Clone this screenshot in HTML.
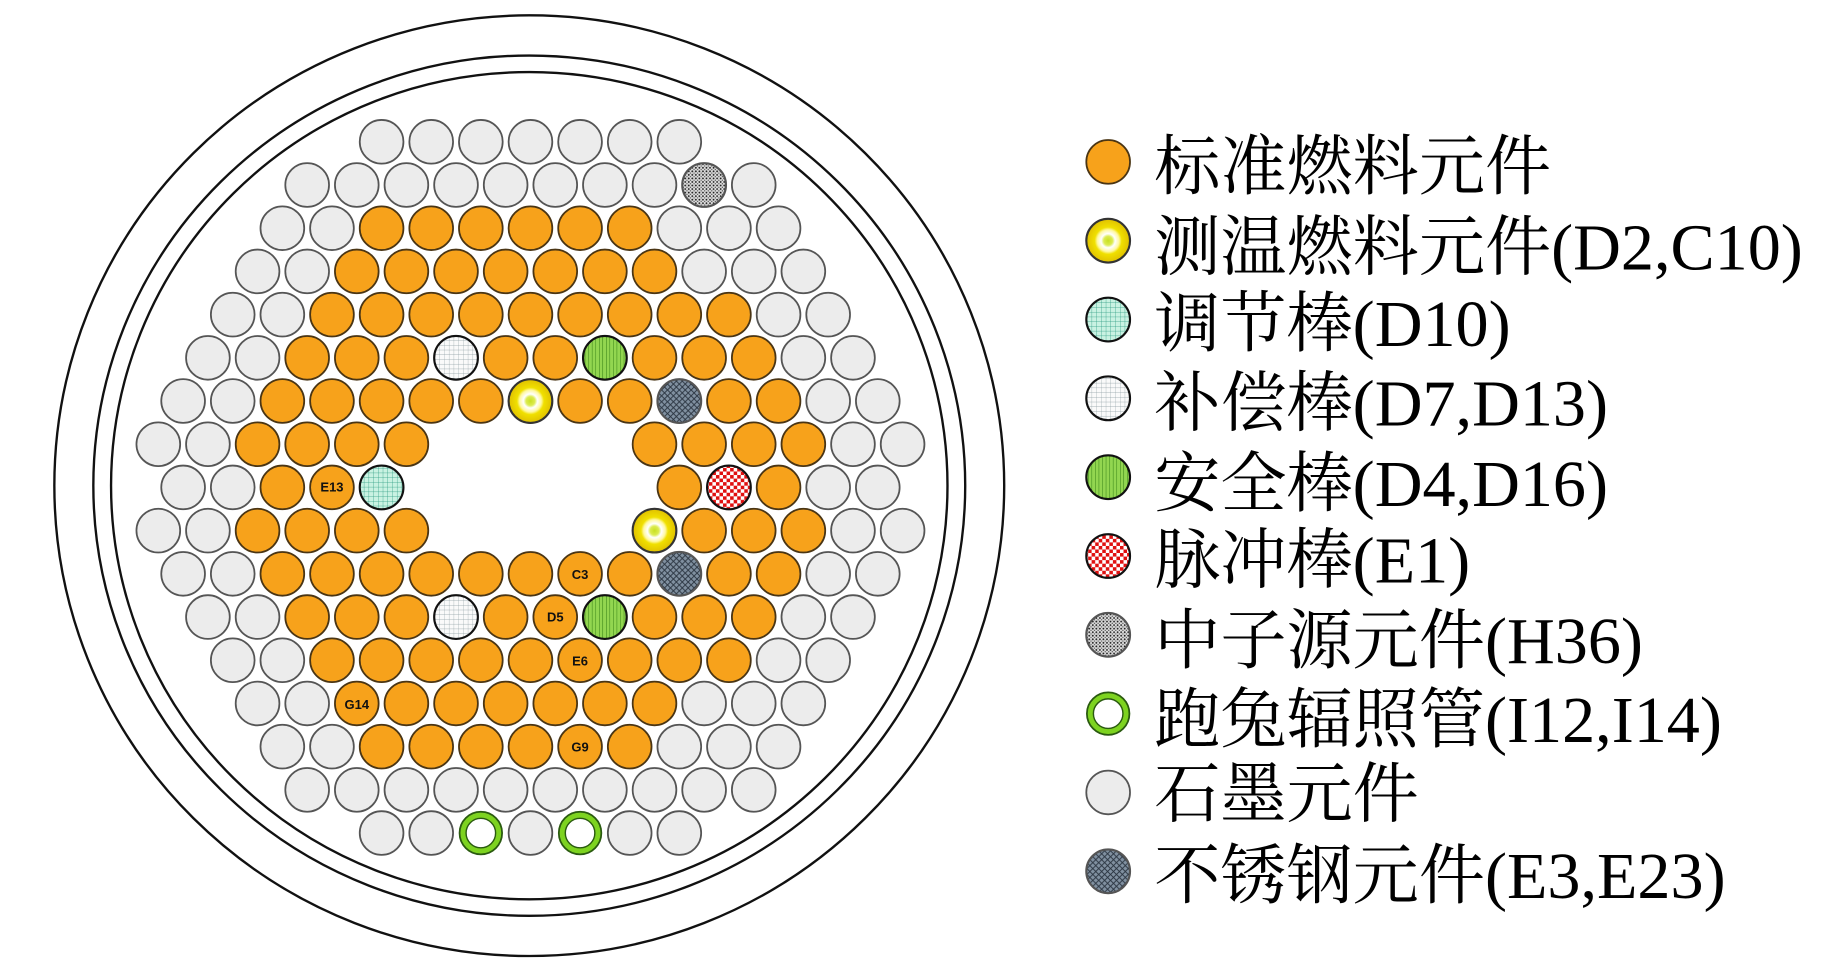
<!DOCTYPE html>
<html><head><meta charset="utf-8"><style>
html,body{margin:0;padding:0;background:#fff;}
svg{display:block;}
.lt{font-family:"Liberation Serif","Noto Serif CJK SC",serif;font-size:56px;fill:#000;}
.lb{font-family:"Liberation Sans","DejaVu Sans",sans-serif;font-size:11px;font-weight:bold;fill:#111;text-anchor:middle;}
</style></head><body>
<svg id="s" width="1843" height="969" viewBox="0 0 1560 820" preserveAspectRatio="none" xmlns="http://www.w3.org/2000/svg">
<defs>
<pattern id="preg" patternUnits="userSpaceOnUse" width="4" height="4"><rect width="4" height="4" fill="#c9f2e2"/><path d="M0 0H4M0 0V4" stroke="#2a9a80" stroke-width="0.6"/></pattern>
<pattern id="pcomp" patternUnits="userSpaceOnUse" width="4" height="4"><rect width="4" height="4" fill="#fafafa"/><path d="M0 0H4M0 0V4" stroke="#8a9aa0" stroke-width="0.5"/></pattern>
<pattern id="psaf" patternUnits="userSpaceOnUse" width="3" height="3"><rect width="3" height="3" fill="#92d650"/><path d="M0 0V3" stroke="#2e7a10" stroke-width="0.8"/></pattern>
<pattern id="ppul" patternUnits="userSpaceOnUse" width="6" height="6"><rect width="6" height="6" fill="#fff"/><rect width="3" height="3" fill="#e01010"/><rect x="3" y="3" width="3" height="3" fill="#e01010"/></pattern>
<pattern id="pneu" patternUnits="userSpaceOnUse" width="3" height="3"><rect width="3" height="3" fill="#ddd"/><circle cx="1" cy="1" r="0.8" fill="#222"/><circle cx="2.5" cy="2.5" r="0.6" fill="#555"/></pattern>
<pattern id="pste" patternUnits="userSpaceOnUse" width="5" height="5"><rect width="5" height="5" fill="#8090a0"/><path d="M0 0L5 5M5 0L0 5" stroke="#2a3440" stroke-width="0.8"/></pattern>
<radialGradient id="gth"><stop offset="0" stop-color="#c8e020"/><stop offset="0.2" stop-color="#dcec50"/><stop offset="0.32" stop-color="#ffffff"/><stop offset="0.5" stop-color="#fff8a0"/><stop offset="0.62" stop-color="#f0e000"/><stop offset="1" stop-color="#e0c000"/></radialGradient>
</defs>
<ellipse cx="448" cy="411" rx="402" ry="398" fill="none" stroke="#111" stroke-width="2"/>
<ellipse cx="448" cy="411" rx="369" ry="364" fill="none" stroke="#111" stroke-width="2"/>
<ellipse cx="448" cy="411" rx="354" ry="350" fill="none" stroke="#111" stroke-width="2"/>
<g id="core"></g>
<g id="leg"></g>
<text class="lb" x="281" y="416">E13</text>
<text class="lb" x="491" y="490">C3</text>
<text class="lb" x="470" y="526">D5</text>
<text class="lb" x="491" y="563">E6</text>
<text class="lb" x="302" y="600">G14</text>
<text class="lb" x="491" y="636">G9</text>
<text class="lt" x="977" y="160">标准燃料元件</text>
<text class="lt" x="977" y="228">测温燃料元件(D2,C10)</text>
<text class="lt" x="977" y="293">调节棒(D10)</text>
<text class="lt" x="977" y="360">补偿棒(D7,D13)</text>
<text class="lt" x="977" y="428">安全棒(D4,D16)</text>
<text class="lt" x="977" y="493">脉冲棒(E1)</text>
<text class="lt" x="977" y="561">中子源元件(H36)</text>
<text class="lt" x="977" y="628">跑兔辐照管(I12,I14)</text>
<text class="lt" x="977" y="691">石墨元件</text>
<text class="lt" x="977" y="760">不锈钢元件(E3,E23)</text>
</svg>
<script>
var NS="http://www.w3.org/2000/svg";
function mk(g,x,y,r,f,st,sw){
  var c=document.createElementNS(NS,"circle");
  c.setAttribute("cx",x);c.setAttribute("cy",y);c.setAttribute("r",r);
  c.setAttribute("fill",f);c.setAttribute("stroke",st);c.setAttribute("stroke-width",sw);
  g.appendChild(c);
}
function C(g,x,y,t){
  var r=18.5, f, st="#111", sw=1.8;
  switch(t){
    case 'g': f="#ececec"; st="#555"; sw=1.5; break;
    case 'o': f="#f7a21b"; st="#4a3514"; sw=1.5; break;
    case 't': f="url(#gth)"; st="#333"; break;
    case 'r': f="url(#preg)"; break;
    case 'c': f="url(#pcomp)"; break;
    case 's': f="url(#psaf)"; break;
    case 'p': f="url(#ppul)"; break;
    case 'n': f="url(#pneu)"; st="#555"; break;
    case 'x': f="url(#pste)"; st="#555"; break;
    case 'b': mk(g,x,y,18,"#7dd320","#2a5a10",1.5); mk(g,x,y,12.5,"#fff","#2a5a10",1.2); return;
    default: return;
  }
  mk(g,x,y,r,f,st,sw);
}
var rows=[
 [323,"ggggggg"],
 [260,"ggggggggng"],
 [239,"ggoooooo"+"ggg"],
 [218,"gg"+"ooooooo"+"ggg"],
 [197,"gg"+"ooooooooo"+"gg"],
 [176,"ggooocoosooogg"],
 [155,"ggoooootooxoogg"],
 [134,"ggoooo____oooogg"],
 [155,"ggoor_____opogg"],
 [134,"gg"+"oooo"+"____"+"tooo"+"gg"],
 [155,"ggooooooooxoogg"],
 [176,"ggooocoosooogg"],
 [197,"ggooooooooogg"],
 [218,"ggoooooooggg"],
 [239,"ggooooooggg"],
 [260,"gggggggggg"],
 [323,"ggbgbgg"]
];
var core=document.getElementById("core");
for(var i=0;i<rows.length;i++){
  var y=120+36.56*i, s=rows[i][1];
  for(var j=0;j<s.length;j++) C(core,rows[i][0]+42*j,y,s[j]);
}
var leg=document.getElementById("leg"), lt="otrcspnbgx";
for(var k=0;k<10;k++) C(leg,938,137+66.7*k,lt[k]);
</script>
</body></html>
